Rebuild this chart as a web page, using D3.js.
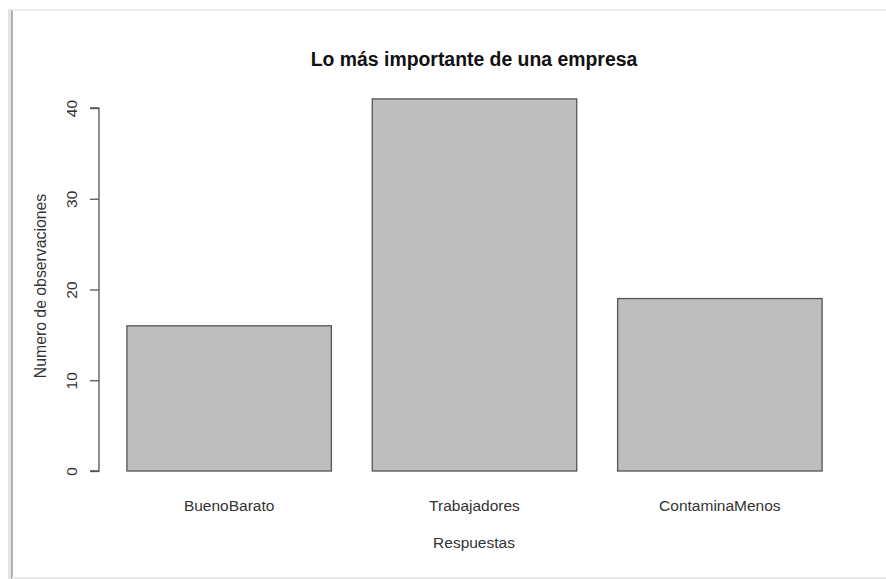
<!DOCTYPE html>
<html><head><meta charset="utf-8">
<script src="https://cdn.jsdelivr.net/npm/d3@7"></script>
<style>body{margin:0;background:#fff}svg{display:block;font-family:"Liberation Sans",Arial,sans-serif}</style>
</head><body>
<svg id="c" width="886" height="579"></svg>
<script>
const categories = ["BuenoBarato","Trabajadores","ContaminaMenos"];
const values = [16, 41, 19];
const yTicks = [0, 10, 20, 30, 40];
const title = "Lo más importante de una empresa";
const xTitle = "Respuestas";
const yTitle = "Numero de observaciones";

const svg = d3.select("#c");
// screenshot frame with shadow
svg.append("rect").attr("x",0).attr("y",0).attr("width",886).attr("height",579).attr("fill","#fff");
svg.append("rect").attr("x",8).attr("y",9).attr("width",3).attr("height",570).attr("fill","#e4e4e4");
svg.append("rect").attr("x",11).attr("y",10).attr("width",2).attr("height",569).attr("fill","#b0b0b0");
svg.append("rect").attr("x",12).attr("y",9).attr("width",874).attr("height",2).attr("fill","#ececec");
svg.append("rect").attr("x",12).attr("y",577).attr("width",874).attr("height",2).attr("fill","#e8e8e8");

// R barplot geometry: width 1, space 0.2
const n = categories.length;
const xmin = 0.2, xmax = 0.2 + 1.2*(n-1) + 1;
const pad = 0.04*(xmax - xmin);
const x = d3.scaleLinear().domain([xmin - pad, xmax + pad]).range([99.1, 849.9]);
const y = d3.scaleLinear().domain([0, 40]).range([471, 108]);

svg.append("g").selectAll("rect").data(values).join("rect")
  .attr("x",(d,i)=>x(0.2+1.2*i)).attr("width",(d,i)=>x(1.2+1.2*i)-x(0.2+1.2*i))
  .attr("y",d=>y(d)).attr("height",d=>y(0)-y(d))
  .attr("fill","#bebebe").attr("stroke","#555").attr("stroke-width",1.3);

// y axis
const yAxis = d3.axisLeft(y).tickValues(yTicks).tickSize(9).tickFormat(d3.format("d"));
const ya = svg.append("g").attr("transform","translate(99,0)").call(yAxis);
ya.select(".domain").attr("stroke","#555").attr("stroke-width",1.3).attr("d","M-9,"+y(0)+"H0V"+y(40)+"H-9");
ya.selectAll(".tick line").attr("stroke","#555").attr("stroke-width",1.3);
ya.selectAll(".tick text").attr("font-size",15.5).attr("fill","#333")
  .attr("x",0).attr("y",0).attr("dy",null).attr("text-anchor","middle")
  .attr("transform","translate(-22,0) rotate(-90)");

// x labels
svg.selectAll("text.xl").data(categories).join("text").attr("class","xl")
  .attr("x",(d,i)=>x(0.7+1.2*i)).attr("y",511).attr("text-anchor","middle")
  .attr("font-size",15.5).attr("fill","#333").text(d=>d);

svg.append("text").attr("x",474).attr("y",66).attr("text-anchor","middle")
  .attr("font-size",19.4).attr("font-weight","bold").attr("fill","#111").text(title);
svg.append("text").attr("x",474).attr("y",548).attr("text-anchor","middle")
  .attr("font-size",15.5).attr("fill","#333").text(xTitle);
svg.append("text").attr("transform","translate(46,286) rotate(-90)").attr("text-anchor","middle")
  .attr("font-size",15.8).attr("fill","#333").text(yTitle);
</script>
</body></html>
